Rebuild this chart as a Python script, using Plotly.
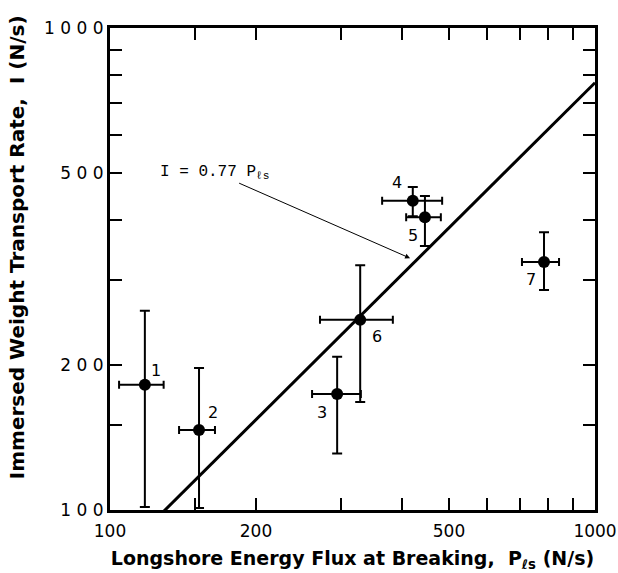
import numpy as np
import plotly.graph_objects as go

# Data
labels = ["1", "2", "3", "4", "5", "6", "7"]
P = [118, 152.6, 294, 421, 446, 328, 785]
I = [182, 146.6, 174, 438, 405, 248, 327]
P_lo = [104.4, 138.8, 261, 364, 408, 271, 707]
P_hi = [129, 164.6, 329, 484, 481, 383, 843]
I_lo = [101.5, 101, 131, 407, 353, 167.5, 286]
I_hi = [259, 197, 208, 468, 448, 322, 377]
coef = 0.77
line_P = [100, 1000]
label_shift_x = [11, 14, -15, -16, -12, 17, -13]
label_shift_y = [14, 17, -18, 18, -18, -17, -18]

major_vals = [100, 200, 500, 1000]
minor_vals = [150, 300, 400, 600, 700, 800, 900]
xticktext = ["100", "200", "500", "1000"]
yticktext = ["1 0 0", "2 0 0", "5 0 0", "1 0 0 0"]

fig = go.Figure()

# Regression line I = 0.77 P
lx = np.array(line_P, dtype=float)
fig.add_trace(go.Scatter(x=lx, y=coef * lx, mode="lines",
                         line=dict(color="black", width=3), showlegend=False,
                         hoverinfo="skip"))

fig.add_trace(go.Scatter(
    x=P, y=I, mode="markers",
    marker=dict(color="black", size=12),
    error_x=dict(type="data", symmetric=False,
                 array=[h - p for h, p in zip(P_hi, P)],
                 arrayminus=[p - l for p, l in zip(P, P_lo)],
                 color="black", thickness=2, width=4),
    error_y=dict(type="data", symmetric=False,
                 array=[h - i for h, i in zip(I_hi, I)],
                 arrayminus=[i - l for i, l in zip(I, I_lo)],
                 color="black", thickness=2, width=5),
    showlegend=False))

for lab, p, i, sx, sy in zip(labels, P, I, label_shift_x, label_shift_y):
    fig.add_annotation(x=np.log10(p), y=np.log10(i), text=lab, showarrow=False,
                       xshift=sx, yshift=sy,
                       font=dict(family="DejaVu Sans", size=16, color="black"))

# Equation annotation with leader arrow
tipP = 415.6
fig.add_annotation(x=np.log10(tipP), y=np.log10(coef * tipP + 13),
                   text="I = 0.77 P<sub>ℓs</sub>", showarrow=True,
                   arrowhead=2, arrowsize=1, arrowwidth=1, arrowcolor="black",
                   ax=-196, ay=-86,
                   font=dict(family="Liberation Mono", size=16, color="black"))

# Y axis title (placed as annotation to match the original position)
fig.add_annotation(xref="paper", yref="paper", x=-0.192, y=0.545,
                   text="<b>Immersed Weight Transport Rate,  I (N/s)</b>",
                   textangle=-90, showarrow=False, xanchor="center", yanchor="middle",
                   font=dict(family="DejaVu Sans", size=20, color="black"))

axis_common = dict(type="log", showgrid=False, zeroline=False, automargin=False,
                   showline=True, linecolor="black", linewidth=3,
                   mirror="ticks", ticks="inside", ticklen=12, tickwidth=2,
                   tickcolor="black", tickvals=major_vals,
                   minor=dict(tickvals=minor_vals, ticks="inside", ticklen=12,
                              tickwidth=2, tickcolor="black", showgrid=False))

fig.update_xaxes(**axis_common, range=[2, 3], ticktext=xticktext,
                 ticklabelstandoff=4,
                 tickfont=dict(family="DejaVu Sans", size=17, color="black"),
                 title=dict(text="<b>Longshore Energy Flux at Breaking,  P<sub>ℓs</sub> (N/s)</b>",
                            font=dict(family="DejaVu Sans", size=19, color="black"),
                            standoff=12))
fig.update_yaxes(**axis_common, range=[2, 3], ticktext=yticktext,
                 tickfont=dict(family="DejaVu Sans", size=17, color="black"))

fig.update_layout(width=618, height=573,
                  margin=dict(l=110, r=23, t=28, b=63),
                  plot_bgcolor="white", paper_bgcolor="white")

fig.write_html("out.html", config={"displayModeBar": False},
               post_script="document.body.style.margin='0';document.body.style.padding='0';")
